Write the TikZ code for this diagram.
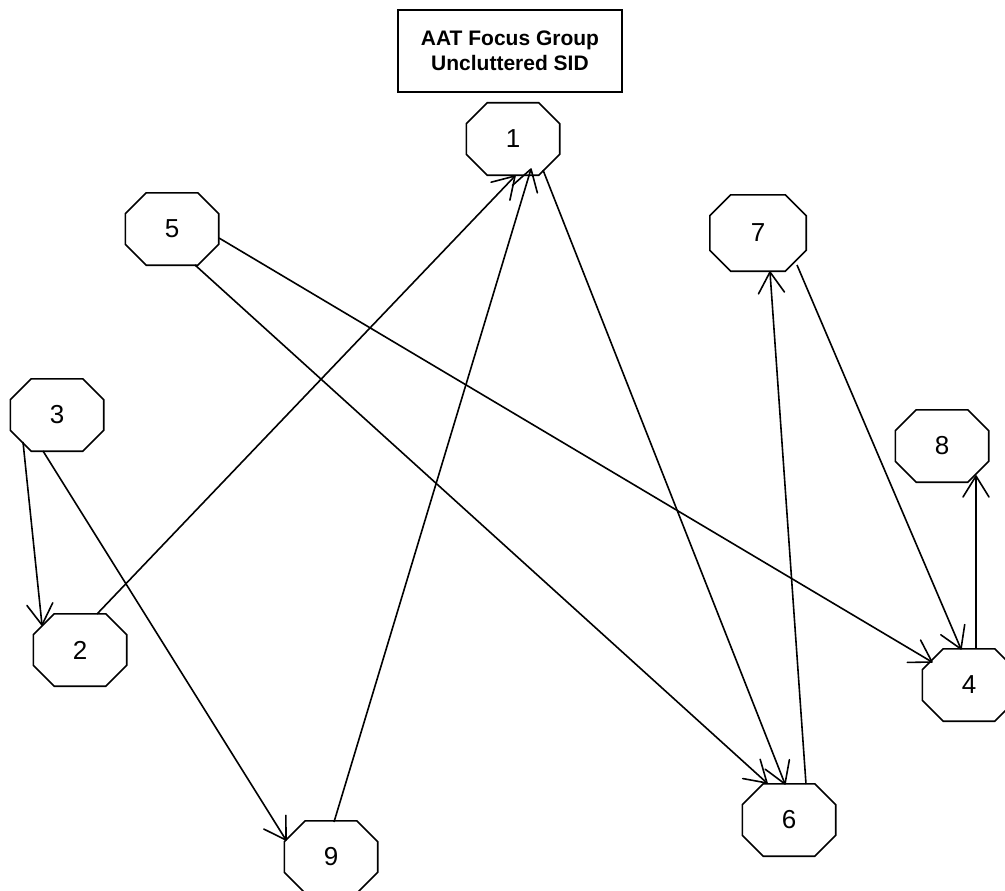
\documentclass[tikz,border=0pt]{standalone}
\usepackage{fontspec}
\setmainfont{Liberation Sans}
\usetikzlibrary{arrows.meta,calc}
\pgfdeclarearrow{
  name = OpenVee,
  parameters = {\the\pgfarrowlength,\the\pgfarrowwidth},
  setup code = {
    \pgfarrowssettipend{0pt}
    \pgfarrowssetlineend{-0.5pt}
    \pgfarrowssetbackend{-\pgfarrowlength}
    \pgfarrowssavethe\pgfarrowlength
    \pgfarrowssavethe\pgfarrowwidth
  },
  drawing code = {
    \pgfsetdash{}{0pt}
    \pgfsetroundjoin
    \pgfsetroundcap
    \pgfpathmoveto{\pgfpoint{-\pgfarrowlength}{0.5\pgfarrowwidth}}
    \pgfpathlineto{\pgfpointorigin}
    \pgfpathlineto{\pgfpoint{-\pgfarrowlength}{-0.5\pgfarrowwidth}}
    \pgfusepathqstroke
  },
  defaults = {length=16pt, width=21pt}
}
\tikzset{
  oct/.style={minimum width=93pt, minimum height=72pt, inner sep=0pt, font=\fontsize{26}{30}\selectfont},
  octline/.style={line width=1.6pt, line join=miter},
  titlebox/.style={draw, line width=1.6pt, minimum width=224pt, minimum height=82pt, align=center,
    font=\fontsize{21}{25}\selectfont\bfseries},
  arr/.style={line width=1.6pt, -{OpenVee[length=21pt,width=26pt]}}
}
\newcommand\octa[1]{\draw[octline] ($(#1.north west)+(21,0)$) -- ($(#1.north east)+(-21,0)$) -- ($(#1.north east)+(0,21)$) -- ($(#1.south east)+(0,-21)$) -- ($(#1.south east)+(-21,0)$) -- ($(#1.south west)+(21,0)$) -- ($(#1.south west)+(0,-21)$) -- ($(#1.north west)+(0,21)$) -- cycle;}
\begin{document}
\begin{tikzpicture}[x=1pt,y=-1pt]
\useasboundingbox (0,0) rectangle (1005,891);
\node[titlebox] (t) at (510,51) {AAT Focus Group\\Uncluttered SID};
\node[oct] (n1) at (513,139) {1};
\node[oct] (n5) at (172,229) {5};
\node[oct, minimum width=96pt, minimum height=76pt] (n7) at (758,233) {7};
\node[oct] (n3) at (57,415) {3};
\node[oct] (n2) at (80,650) {2};
\node[oct] (n8) at (942,446) {8};
\node[oct] (n4) at (969,685) {4};
\node[oct] (n6) at (789,820) {6};
\node[oct] (n9) at (331,857) {9};
\foreach \n in {n1,n2,n3,n4,n5,n6,n7,n8,n9} {\octa{\n}}
\draw[arr] ($(n3)+(-34,27)$) -- ($(n2)+(-38,-25)$);
\draw[arr] ($(n3)+(-14,36)$) -- ($(n9)+(-45,-17)$);
\draw[arr] ($(n2)+(17,-36)$) -- ($(n1)+(2,37)$);
\draw[arr] ($(n9)+(3,-35)$) -- ($(n1)+(18,30)$);
\draw[arr] ($(n1)+(30,31)$) -- ($(n6)+(-4,-36)$);
\draw[arr] ($(n5)+(23,36)$) -- ($(n6)+(-22,-37)$);
\draw[arr] ($(n5)+(47,9)$) -- ($(n4)+(-37,-23)$);
\draw[arr] ($(n7)+(39,32)$) -- ($(n4)+(-8,-36)$);
\draw[arr] ($(n6)+(17,-36)$) -- ($(n7)+(12,39)$);
\draw[arr] ($(n4)+(7,-36)$) -- ($(n8)+(34,30)$);
\end{tikzpicture}
\end{document}
